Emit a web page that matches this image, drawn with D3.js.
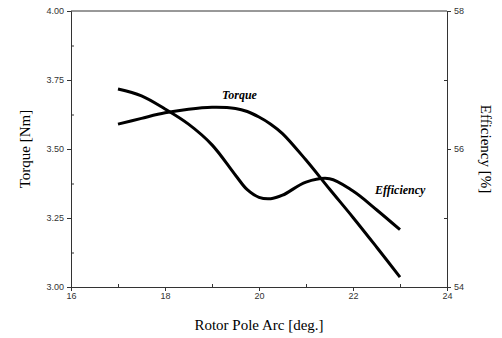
<!DOCTYPE html>
<html><head><meta charset="utf-8">
<script src="https://cdn.jsdelivr.net/npm/d3@7"></script>
<style>body{margin:0;background:#fff}svg{display:block}</style>
</head><body>
<script>
const arcDeg = [17, 17.5, 18, 18.5, 19, 19.5, 19.75, 20, 20.25, 20.5, 21, 21.5, 22, 22.5, 23];
const torque = [3.590, 3.611, 3.631, 3.644, 3.651, 3.647, 3.636, 3.616, 3.590, 3.556, 3.460, 3.355, 3.252, 3.145, 3.036];
const efficiency = [56.87, 56.77, 56.58, 56.36, 56.06, 55.62, 55.41, 55.30, 55.28, 55.33, 55.52, 55.57, 55.39, 55.12, 54.83];
const xTicks = [16, 18, 20, 22, 24];
const yLeftTicks = [3.00, 3.25, 3.50, 3.75, 4.00];
const yRightTicks = [54, 56, 58];

const W = 502, H = 338;
const m = {l: 71, r: 55, t: 11, b: 51};
const svg = d3.select("body").append("svg").attr("width", W).attr("height", H);
const x = d3.scaleLinear().domain([16, 24]).range([m.l, W - m.r]);
const yL = d3.scaleLinear().domain([3, 4]).range([H - m.b, m.t]);
const yR = d3.scaleLinear().domain([54, 58]).range([H - m.b, m.t]);

const axisColor = "#333";
const tickFont = "Liberation Sans, Arial, sans-serif";

function styleAxis(g) {
  g.selectAll("path,line").attr("stroke", axisColor).attr("stroke-width", 1);
  g.selectAll("text").attr("font-family", tickFont).attr("font-size", 9).attr("fill", "#333");
}

svg.append("line").attr("x1", x(16)).attr("x2", x(24)).attr("y1", m.t).attr("y2", m.t)
  .attr("stroke", axisColor);

const gx = svg.append("g").attr("transform", `translate(0,${H - m.b})`)
  .call(d3.axisBottom(x).tickValues(xTicks).tickFormat(d3.format("d")).tickSizeOuter(0).tickSize(4).tickPadding(2));
styleAxis(gx);
svg.append("g").attr("transform", `translate(0,${H - m.b})`)
  .call(d3.axisTop(x).tickValues([17, 19, 21, 23]).tickFormat("").tickSizeOuter(0).tickSize(3))
  .call(g => { g.select(".domain").remove(); styleAxis(g); });

const gl = svg.append("g").attr("transform", `translate(${m.l},0)`)
  .call(d3.axisLeft(yL).tickValues(yLeftTicks).tickFormat(d3.format(".2f")).tickSizeOuter(0).tickSize(4).tickPadding(3));
styleAxis(gl);
svg.append("g").attr("transform", `translate(${m.l},0)`)
  .call(d3.axisRight(yL).tickValues([3.125, 3.375, 3.625, 3.875]).tickFormat("").tickSizeOuter(0).tickSize(3))
  .call(g => { g.select(".domain").remove(); styleAxis(g); });

const gr = svg.append("g").attr("transform", `translate(${W - m.r},0)`)
  .call(d3.axisRight(yR).tickValues(yRightTicks).tickFormat(d3.format("d")).tickSizeOuter(0).tickSize(4).tickPadding(3));
styleAxis(gr);
svg.append("g").attr("transform", `translate(${W - m.r},0)`)
  .call(d3.axisLeft(yR).tickValues([55, 57]).tickFormat("").tickSizeOuter(0).tickSize(3))
  .call(g => { g.select(".domain").remove(); styleAxis(g); });

const lineT = d3.line().x((d, i) => x(arcDeg[i])).y(d => yL(d)).curve(d3.curveCatmullRom.alpha(0.5));
const lineE = d3.line().x((d, i) => x(arcDeg[i])).y(d => yR(d)).curve(d3.curveCatmullRom.alpha(0.5));
svg.append("path").attr("d", lineT(torque)).attr("fill", "none").attr("stroke", "#000").attr("stroke-width", 3);
svg.append("path").attr("d", lineE(efficiency)).attr("fill", "none").attr("stroke", "#000").attr("stroke-width", 3);

const serif = "Liberation Serif, Times New Roman, serif";
svg.append("text").attr("x", 222).attr("y", 99).text("Torque")
  .attr("font-family", serif).attr("font-style", "italic").attr("font-weight", "bold").attr("font-size", 12);
svg.append("text").attr("x", 375).attr("y", 194).text("Efficiency")
  .attr("font-family", serif).attr("font-style", "italic").attr("font-weight", "bold").attr("font-size", 12);

svg.append("text").attr("x", x(20)).attr("y", 330).attr("text-anchor", "middle")
  .attr("font-family", serif).attr("font-size", 15).text("Rotor Pole Arc [deg.]");
svg.append("text").attr("transform", `translate(30,${(m.t + H - m.b) / 2}) rotate(-90)`).attr("text-anchor", "middle")
  .attr("font-family", serif).attr("font-size", 15).text("Torque [Nm]");
svg.append("text").attr("transform", `translate(481,${(m.t + H - m.b) / 2}) rotate(90)`).attr("text-anchor", "middle")
  .attr("font-family", serif).attr("font-size", 15).text("Efficiency [%]");
</script>
</body></html>
